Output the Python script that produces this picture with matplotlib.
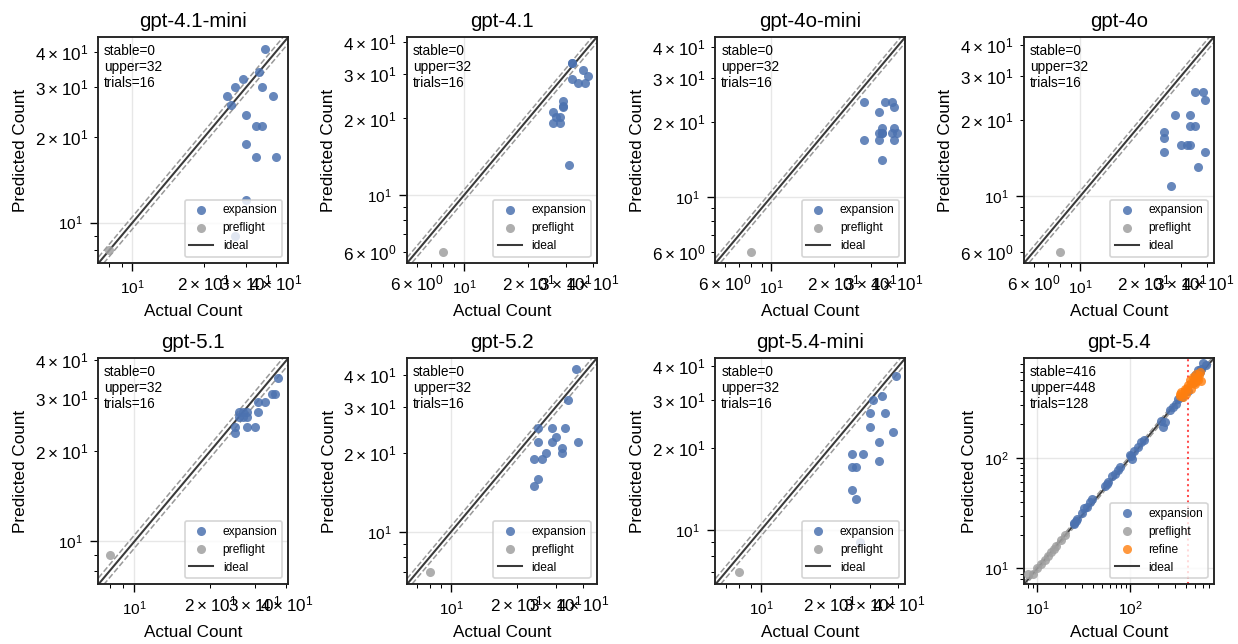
import matplotlib
matplotlib.use("Agg")
import matplotlib.pyplot as plt
import numpy as np

plt.rcParams['font.family'] = ['Liberation Sans', 'DejaVu Sans']

DPI = 123

models = ["gpt-4.1-mini", "gpt-4.1", "gpt-4o-mini", "gpt-4o",
          "gpt-5.1", "gpt-5.2", "gpt-5.4-mini", "gpt-5.4"]
stable = [0, 0, 0, 0, 0, 0, 0, 416]
upper = [32, 32, 32, 32, 32, 32, 32, 448]
trials = [16, 16, 16, 16, 16, 16, 16, 128]

# expansion points (actual, predicted) per model
exp_actual = [
    [36, 34, 29, 27, 25, 26, 35, 39, 30, 33, 35, 30, 33, 40, 30, 27],
    [32, 32, 36, 38, 34, 37, 29, 29, 29, 26, 26, 27, 28, 28, 31, 32],
    [28, 35, 38, 39, 33, 34, 39, 33, 34, 34, 38, 40, 28, 33, 39, 34],
    [35, 38, 39, 28, 33, 33, 35, 25, 25, 25, 30, 32, 33, 39, 36, 27],
    [37, 35, 36, 31, 33, 31, 26, 27, 26, 28, 28, 30, 25, 25, 28, 27],
    [37, 34, 25, 29, 33, 30, 25, 29, 38, 32, 32, 27, 24, 26, 25, 24],
    [39, 34, 31, 30, 35, 30, 38, 33, 25, 28, 33, 25, 26, 25, 26, 27],
    [25, 26, 25, 27, 30, 32, 34, 37, 39, 54, 56, 58, 63, 69, 74, 78,
     100, 102, 105, 111, 120, 131, 140, 215, 225, 238, 265, 288, 313,
     330, 360, 420, 470, 493, 535, 583, 611, 657, 560, 520],
]
exp_pred = [
    [41, 34, 32, 30, 28, 26, 30, 28, 24, 22, 22, 19, 17, 17, 12, 9],
    [33, 28.5, 31, 29.5, 27.5, 27.5, 23.4, 22.4, 22.2, 21.2, 19.2, 20.2, 20.2, 19.2, 13.1, 33],
    [24, 24, 24, 23, 22, 19, 19, 18, 18, 18, 18, 18, 17, 17, 17, 14],
    [26, 26, 24, 21, 21, 19, 19, 18, 17, 15, 16, 16, 16, 15, 13, 11],
    [35, 31, 31, 29, 29, 27, 27, 27, 26, 26, 24, 24, 24, 23, 27, 26],
    [42, 32, 25, 25, 25, 23, 22, 22, 22, 21, 20, 20, 19, 19, 16, 15],
    [37, 31, 30, 27, 27, 24, 23, 21, 19, 19, 18, 17, 17, 14, 13, 9],
    [26, 27, 25, 28, 32, 35, 36, 40, 42, 56, 58, 60, 69, 72, 78, 82,
     105, 104, 98, 116, 125, 138, 146, 216, 188, 209, 267, 286, 306,
     340, 350, 400, 470, 553, 614, 634, 720, 681, 590, 540],
]

# preflight points
pre_actual = [[8], [8], [8], [8], [8], [8], [8],
              [8, 9, 10, 11, 12, 13, 14, 15, 16, 18, 20]]
pre_pred = [[8], [6], [6], [6], [9], [7], [7],
            [9, 9, 10, 11, 12, 13, 14, 15, 16, 18, 20]]

# refine points (gpt-5.4 only)
ref_actual = [339, 354, 369, 384, 401, 417, 435, 452, 472, 493, 513, 535,
              559, 573, 345, 390, 410, 445, 480, 520, 550, 500]
ref_pred = [377, 390, 352, 419, 377, 450, 498, 419, 534, 465, 573, 498,
            593, 488, 360, 400, 430, 470, 500, 520, 560, 480]

tol = 0.05

fig, axes = plt.subplots(2, 4, figsize=(1238 / DPI, 644 / DPI), dpi=DPI)
fig.subplots_adjust(left=0.0795, right=0.9805, top=0.9425, bottom=0.0927,
                    wspace=0.625, hspace=0.42)

for i, ax in enumerate(axes.flat):
    ex, ey = exp_actual[i], exp_pred[i]
    px, py = pre_actual[i], pre_pred[i]
    allv = ex + ey + px + py
    if i == 7:
        allv = allv + ref_actual + ref_pred
    lo = 0.9 * min(allv)
    hi = 1.1 * max(allv)

    ax.scatter(ex, ey, s=28, color='#4C72B0', alpha=0.85, linewidths=0,
               label='expansion', zorder=3)
    ax.scatter(px, py, s=28, color='#a0a0a0', alpha=0.85, linewidths=0,
               label='preflight', zorder=3)
    if i == 7:
        ax.scatter(ref_actual, ref_pred, s=28, color='#ff7f0e', alpha=0.8,
                   linewidths=0, label='refine', zorder=3)

    line = np.array([lo, hi])
    ax.plot(line, line, color='#3a3a3a', lw=1.2, label='ideal', zorder=2)
    ax.plot(line, line * (1 + tol), color='#999999', lw=0.9, ls='--', zorder=2)
    ax.plot(line, line * (1 - tol), color='#999999', lw=0.9, ls='--', zorder=2)

    if stable[i] > 0:
        ax.axvline(stable[i], color='red', ls=':', lw=1.2, alpha=0.7)

    ax.set_xscale('log')
    ax.set_yscale('log')
    ax.set_xlim(lo, hi)
    ax.set_ylim(lo, hi)
    ax.grid(True, which='major', alpha=0.3)
    ax.tick_params(labelsize=9, pad=4.5)
    ax.tick_params(which='major', length=4.5)
    ax.tick_params(which='minor', length=2.5)
    for sp in ax.spines.values():
        sp.set_linewidth(1.1)
        sp.set_color('#222222')

    ax.set_title(models[i], fontsize=12)
    ax.set_xlabel("Actual Count", fontsize=10)
    ax.set_ylabel("Predicted Count", fontsize=10)

    ax.text(0.03, 0.97,
            "stable={0}\nupper={1}\ntrials={2}".format(stable[i], upper[i], trials[i]),
            transform=ax.transAxes, va='top', ha='left', fontsize=8)
    ax.legend(loc='lower right', fontsize=7)

fig.savefig("out.png", dpi=DPI)
